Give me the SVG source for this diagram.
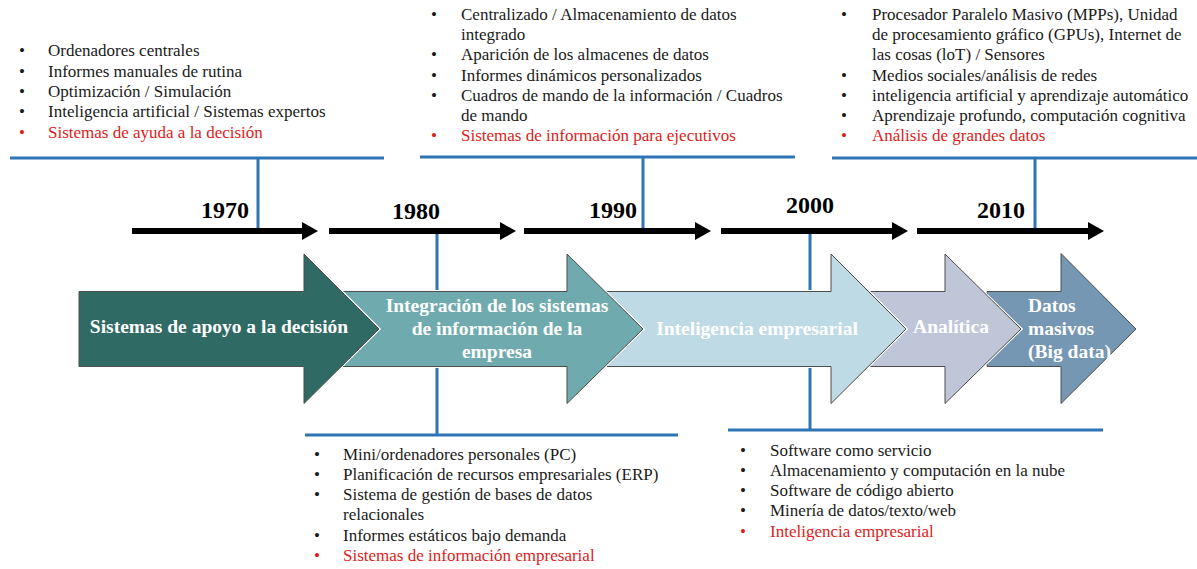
<svg xmlns="http://www.w3.org/2000/svg" width="1197" height="569" viewBox="0 0 1197 569">
<defs>
<style>
.t{font-family:"Liberation Serif","Times New Roman",serif;font-size:17px;fill:#1a1a1a}
.r{fill:#DD1C1A}
.b{text-anchor:middle}
.yr{font-family:"Liberation Serif","Times New Roman",serif;font-size:24px;font-weight:bold;fill:#000;text-anchor:middle}
.al{font-family:"Liberation Serif","Times New Roman",serif;font-size:19.5px;font-weight:bold;fill:#fff}
.blue{stroke:#2E75B6;stroke-width:3;fill:none}
.tl{stroke:#000;stroke-width:6;fill:none}
.big{stroke:#4d4d4d;stroke-width:1;stroke-linejoin:miter}
.halo{stroke:#fff;stroke-width:3;fill:none}
</style>
<marker id="ah" viewBox="0 0 16 18" refX="0" refY="9" markerWidth="16" markerHeight="18" markerUnits="userSpaceOnUse" orient="auto">
<path d="M0,0 L16,9 L0,18 Z" fill="#000"/>
</marker>
</defs>
<rect width="1197" height="569" fill="#fff"/>

<g id="connectors">
<line class="blue" x1="10" y1="158" x2="384" y2="158"/>
<line class="blue" x1="258" y1="158" x2="258" y2="231"/>
<line class="blue" x1="420" y1="157" x2="795" y2="157"/>
<line class="blue" x1="643" y1="157" x2="643" y2="231"/>
<line class="blue" x1="832" y1="158" x2="1197" y2="158"/>
<line class="blue" x1="1035" y1="158" x2="1035" y2="231"/>
<line class="blue" x1="437" y1="231" x2="437" y2="435"/>
<line class="blue" x1="305" y1="435" x2="678" y2="435"/>
<line class="blue" x1="810" y1="231" x2="810" y2="430"/>
<line class="blue" x1="728" y1="430" x2="1103" y2="430"/>
<line class="tl" x1="132" y1="231" x2="302" y2="231" marker-end="url(#ah)"/>
<line class="tl" x1="329" y1="231" x2="500" y2="231" marker-end="url(#ah)"/>
<line class="tl" x1="524" y1="231" x2="695" y2="231" marker-end="url(#ah)"/>
<line class="tl" x1="721" y1="231" x2="892" y2="231" marker-end="url(#ah)"/>
<line class="tl" x1="917" y1="231" x2="1088" y2="231" marker-end="url(#ah)"/>
</g>

<g id="years">
<text class="yr" x="225" y="218">1970</text>
<text class="yr" x="416" y="219">1980</text>
<text class="yr" x="613" y="218">1990</text>
<text class="yr" x="810" y="213">2000</text>
<text class="yr" x="1001" y="218">2010</text>
</g>

<g id="arrow-datos-masivos">
<path class="halo" d="M987,291.5 L1061,291.5 L1061,253.5 L1136,329 L1061,403.5 L1061,366.5 L987,366.5 Z"/>
<path class="big" fill="#7597B3" d="M987,291.5 L1061,291.5 L1061,253.5 L1136,329 L1061,403.5 L1061,366.5 L987,366.5 Z"/>
<text class="al" x="1028" y="312">Datos</text>
<text class="al" x="1028" y="335">masivos</text>
<text class="al" x="1028" y="358">(Big data)</text>
</g>

<g id="arrow-analitica">
<path class="halo" d="M869,291.5 L945,291.5 L945,254 L1021,329 L945,403.5 L945,366.5 L869,366.5 Z"/>
<path class="big" fill="#BEC6D8" d="M869,291.5 L945,291.5 L945,254 L1021,329 L945,403.5 L945,366.5 L869,366.5 Z"/>
<text class="al b" x="951" y="333">Analítica</text>
</g>

<g id="arrow-inteligencia">
<path class="halo" d="M607,291.5 L831,291.5 L831,254 L906,329 L831,403.5 L831,366.5 L607,366.5 Z"/>
<path class="big" fill="#BEDAE4" d="M607,291.5 L831,291.5 L831,254 L906,329 L831,403.5 L831,366.5 L607,366.5 Z"/>
<text class="al b" x="757" y="335">Inteligencia  empresarial</text>
</g>

<g id="arrow-integracion">
<path class="halo" d="M343,291.5 L567,291.5 L567,254 L643,329 L567,403.5 L567,366.5 L343,366.5 Z"/>
<path class="big" fill="#6FABAE" d="M343,291.5 L567,291.5 L567,254 L643,329 L567,403.5 L567,366.5 L343,366.5 Z"/>
<text class="al b" x="497" y="312">Integración  de los sistemas</text>
<text class="al b" x="497" y="335">de información  de la</text>
<text class="al b" x="497" y="358">empresa</text>
</g>

<g id="arrow-apoyo">
<path class="halo" d="M79,291.5 L304,291.5 L304,254 L379,329 L304,403.5 L304,366.5 L79,366.5 Z"/>
<path class="big" fill="#2F6A65" d="M79,291.5 L304,291.5 L304,254 L379,329 L304,403.5 L304,366.5 L79,366.5 Z"/>
<text class="al b" x="219" y="333">Sistemas de apoyo  a la decisión</text>
</g>

<g id="box-1970">
<text class="t b" x="22" y="56">•</text><text class="t" x="48" y="56">Ordenadores  centrales</text>
<text class="t b" x="22" y="77">•</text><text class="t" x="48" y="77">Informes manuales  de rutina</text>
<text class="t b" x="22" y="97">•</text><text class="t" x="48" y="97">Optimización  / Simulación</text>
<text class="t b" x="22" y="117">•</text><text class="t" x="48" y="117">Inteligencia artificial / Sistemas expertos</text>
<text class="t b r" x="22" y="138">•</text><text class="t r" x="48" y="138">Sistemas de ayuda  a la decisión</text>
</g>

<g id="box-1990">
<text class="t b" x="434" y="20">•</text><text class="t" x="461" y="20">Centralizado  / Almacenamiento  de datos</text>
<text class="t" x="461" y="40">integrado</text>
<text class="t b" x="434" y="60">•</text><text class="t" x="461" y="60">Aparición  de los almacenes de datos</text>
<text class="t b" x="434" y="81">•</text><text class="t" x="461" y="81">Informes dinámicos personalizados</text>
<text class="t b" x="434" y="101">•</text><text class="t" x="461" y="101">Cuadros de mando de la información / Cuadros</text>
<text class="t" x="461" y="121">de mando</text>
<text class="t b r" x="434" y="141">•</text><text class="t r" x="461" y="141">Sistemas de información para ejecutivos</text>
</g>

<g id="box-2010">
<text class="t b" x="844" y="20">•</text><text class="t" x="872" y="20">Procesador Paralelo Masivo  (MPPs), Unidad</text>
<text class="t" x="872" y="40">de procesamiento gráfico (GPUs), Internet de</text>
<text class="t" x="872" y="60">las cosas (loT) / Sensores</text>
<text class="t b" x="844" y="81">•</text><text class="t" x="872" y="81">Medios sociales/análisis de redes</text>
<text class="t b" x="844" y="101">•</text><text class="t" x="872" y="101">inteligencia artificial y aprendizaje  automático</text>
<text class="t b" x="844" y="121">•</text><text class="t" x="872" y="121">Aprendizaje  profundo, computación cognitiva</text>
<text class="t b r" x="844" y="141">•</text><text class="t r" x="872" y="141">Análisis de grandes datos</text>
</g>

<g id="box-1980">
<text class="t b" x="317" y="460">•</text><text class="t" x="343" y="460">Mini/ordenadores personales (PC)</text>
<text class="t b" x="317" y="480">•</text><text class="t" x="343" y="480">Planificación de recursos empresariales (ERP)</text>
<text class="t b" x="317" y="500">•</text><text class="t" x="343" y="500">Sistema de gestión de bases de datos</text>
<text class="t" x="343" y="520">relacionales</text>
<text class="t b" x="317" y="541">•</text><text class="t" x="343" y="541">Informes estáticos bajo demanda</text>
<text class="t b r" x="317" y="561">•</text><text class="t r" x="343" y="561">Sistemas de información empresarial</text>
</g>

<g id="box-2000">
<text class="t b" x="743" y="456">•</text><text class="t" x="770" y="456">Software  como servicio</text>
<text class="t b" x="743" y="476">•</text><text class="t" x="770" y="476">Almacenamiento  y computación en la nube</text>
<text class="t b" x="743" y="496">•</text><text class="t" x="770" y="496">Software  de código abierto</text>
<text class="t b" x="743" y="516">•</text><text class="t" x="770" y="516">Minería de datos/texto/web</text>
<text class="t b r" x="743" y="537">•</text><text class="t r" x="770" y="537">Inteligencia empresarial</text>
</g>
</svg>
